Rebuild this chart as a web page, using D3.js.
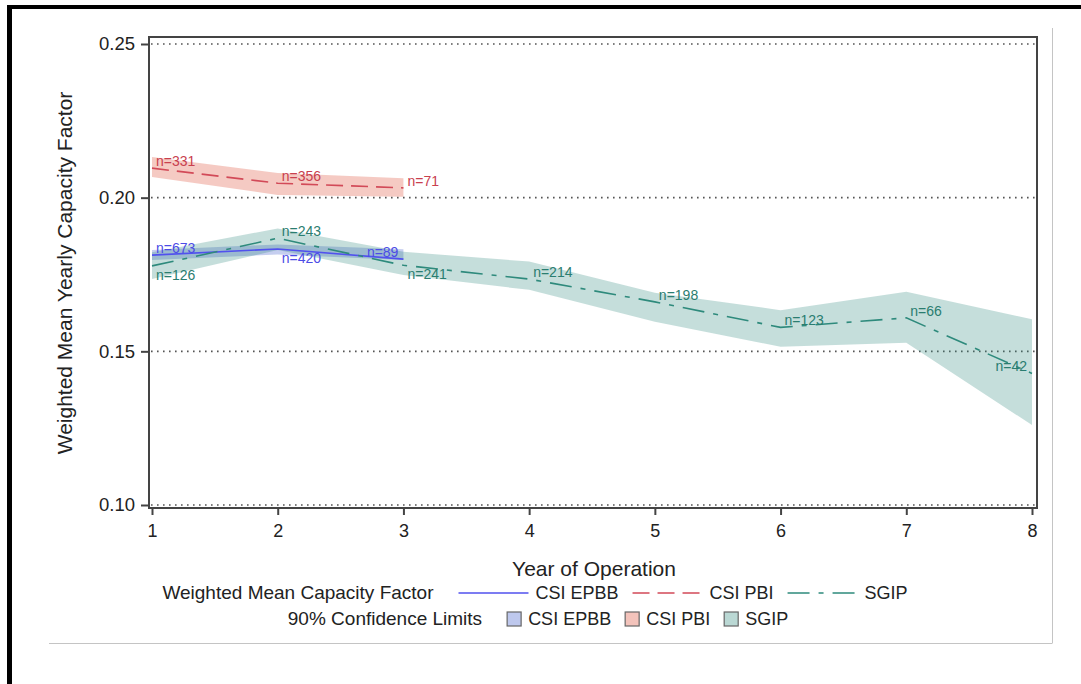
<!DOCTYPE html>
<html>
<head>
<meta charset="utf-8">
<script src="https://cdn.jsdelivr.net/npm/d3@7"></script>
<style>
  body { margin: 0; background: #fff; }
  text { font-family: "Liberation Sans", Arial, sans-serif; fill: #222; }
</style>
</head>
<body>
<div id="chart"></div>
<script>
// values
const years = [1, 2, 3, 4, 5, 6, 7, 8];
const yTicks = [0.10, 0.15, 0.20, 0.25];

const epbbMean  = [0.1813, 0.1833, 0.1800];
const epbbLower = [0.1797, 0.1815, 0.1797];
const epbbUpper = [0.1830, 0.1848, 0.1832];
const epbbN     = [673, 420, 89];

const pbiMean  = [0.2096, 0.2047, 0.2032];
const pbiLower = [0.2067, 0.2009, 0.2003];
const pbiUpper = [0.2132, 0.2080, 0.2063];
const pbiN     = [331, 356, 71];

const sgipMean  = [0.1778, 0.1868, 0.1780, 0.1735, 0.1661, 0.1578, 0.1609, 0.1428];
const sgipLower = [0.1735, 0.1830, 0.1748, 0.1700, 0.1596, 0.1515, 0.1528, 0.1260];
const sgipUpper = [0.1822, 0.1900, 0.1824, 0.1792, 0.1691, 0.1634, 0.1694, 0.1604];
const sgipN     = [126, 243, 241, 214, 198, 123, 66, 42];

const seriesNames = ['CSI EPBB', 'CSI PBI', 'SGIP'];

// where each n= label sits relative to its point
const epbbPos = ['ar', 'br', 'al'];
const pbiPos  = ['ar', 'ar', 'ar'];
const sgipPos = ['br', 'ar', 'br', 'ar', 'ar', 'ar', 'ar', 'al'];

const W = 1081, H = 684;
const svg = d3.select('#chart').append('svg')
    .attr('width', W)
    .attr('height', H);

// page decoration: black frame top/left, grey shadow box
svg.append('rect').attr('x', 7).attr('y', 5).attr('width', W - 7).attr('height', 4).attr('fill', '#000');
svg.append('rect').attr('x', 7).attr('y', 5).attr('width', 5).attr('height', H - 5).attr('fill', '#000');
svg.append('line').attr('x1', 49).attr('x2', 1052).attr('y1', 643.5).attr('y2', 643.5)
    .attr('stroke', '#c4c4c4').attr('stroke-width', 1);
svg.append('line').attr('x1', 1052.5).attr('x2', 1052.5).attr('y1', 28).attr('y2', 643.5)
    .attr('stroke', '#c4c4c4').attr('stroke-width', 1);

const x = d3.scaleLinear().domain([1, 8]).range([152, 1032]);
const y = d3.scaleLinear().domain([0.10, 0.25]).range([505, 44]);

const frame = {left: 149, right: 1037, top: 37, bottom: 508};

// dotted reference lines
svg.append('g').selectAll('line')
    .data(yTicks)
    .join('line')
    .attr('x1', frame.left + 2)
    .attr('x2', frame.right - 2)
    .attr('y1', d => y(d))
    .attr('y2', d => y(d))
    .attr('stroke', '#555')
    .attr('stroke-width', 1.6)
    .attr('stroke-dasharray', '1.6,4.4');

const colEPBB = '#5151ee', colPBI = '#d24a58', colSGIP = '#2e8a7c';

function rows(mean, lower, upper, n) {
    return mean.map((m, i) => ({year: years[i], m: m, lo: lower[i], hi: upper[i], n: n[i]}));
}
const epbb = rows(epbbMean, epbbLower, epbbUpper, epbbN);
const pbi  = rows(pbiMean, pbiLower, pbiUpper, pbiN);
const sgip = rows(sgipMean, sgipLower, sgipUpper, sgipN);

const area = d3.area().x(d => x(d.year)).y0(d => y(d.lo)).y1(d => y(d.hi));
const line = d3.line().x(d => x(d.year)).y(d => y(d.m));

// confidence bands
svg.append('path').attr('d', area(epbb)).attr('fill', '#6f84d6').attr('fill-opacity', 0.4);
svg.append('path').attr('d', area(pbi)).attr('fill', '#e6806f').attr('fill-opacity', 0.42);
svg.append('path').attr('d', area(sgip)).attr('fill', '#2e8a7c').attr('fill-opacity', 0.28);

// mean lines
svg.append('path').attr('d', line(epbb)).attr('fill', 'none')
    .attr('stroke', colEPBB).attr('stroke-width', 1.6);
svg.append('path').attr('d', line(pbi)).attr('fill', 'none')
    .attr('stroke', colPBI).attr('stroke-width', 1.6).attr('stroke-dasharray', '17,8');
svg.append('path').attr('d', line(sgip)).attr('fill', 'none')
    .attr('stroke', colSGIP).attr('stroke-width', 1.6).attr('stroke-dasharray', '22,9,5,9');

// n= labels
function nLabels(data, pos, color) {
    svg.append('g').selectAll('text')
        .data(data)
        .join('text')
        .attr('x', (d, i) => pos[i] === 'al' ? x(d.year) - 5 : x(d.year) + 4)
        .attr('y', (d, i) => pos[i] === 'br' ? y(d.m) + 14 : y(d.m) - 2)
        .attr('text-anchor', (d, i) => pos[i] === 'al' ? 'end' : 'start')
        .style('font-size', '14px')
        .style('fill', color)
        .text(d => 'n=' + d.n);
}
nLabels(pbi, pbiPos, '#c9404e');
nLabels(epbb, epbbPos, '#4c4ce6');
nLabels(sgip, sgipPos, '#2a7d70');

// frame
svg.append('rect')
    .attr('x', frame.left).attr('y', frame.top)
    .attr('width', frame.right - frame.left)
    .attr('height', frame.bottom - frame.top)
    .attr('fill', 'none')
    .attr('stroke', '#444')
    .attr('stroke-width', 2);

// y axis
const yAxis = svg.append('g')
    .attr('transform', `translate(${frame.left},0)`)
    .call(d3.axisLeft(y).tickValues(yTicks).tickFormat(d3.format('.2f')).tickSize(8).tickPadding(6));
yAxis.select('.domain').remove();
yAxis.selectAll('line').attr('stroke', '#444').attr('stroke-width', 2);
yAxis.selectAll('text').style('font-size', '18.5px').style('font-family', '"Liberation Sans", Arial, sans-serif').attr('fill', '#222');

// x axis
const xAxis = svg.append('g')
    .attr('transform', `translate(0,${frame.bottom})`)
    .call(d3.axisBottom(x).tickValues(years).tickFormat(d3.format('d')).tickSize(7).tickPadding(9));
xAxis.select('.domain').remove();
xAxis.selectAll('line').attr('stroke', '#444').attr('stroke-width', 2);
xAxis.selectAll('text').style('font-size', '18px').style('font-family', '"Liberation Sans", Arial, sans-serif').attr('fill', '#222');

// axis titles
svg.append('text')
    .attr('transform', 'translate(72,273) rotate(-90)')
    .attr('text-anchor', 'middle')
    .style('font-size', '21px')
    .text('Weighted Mean Yearly Capacity Factor');
svg.append('text')
    .attr('x', 594)
    .attr('y', 576)
    .attr('text-anchor', 'middle')
    .style('font-size', '21px')
    .text('Year of Operation');

// legend
const colors = [colEPBB, colPBI, colSGIP];
const dashes = [null, '17,8', '22,9,5,9'];
const bandFill = ['#6f84d6', '#e6806f', '#2e8a7c'];
const bandOpacity = [0.4, 0.42, 0.28];

function legendRow(title, yMid, drawSymbol, symW, center) {
    const g = svg.append('g');
    let cx = 0;
    const t = g.append('text').attr('x', cx).attr('y', yMid + 6)
        .style('font-size', '19px').text(title);
    cx += t.node().getComputedTextLength() + 25;
    seriesNames.forEach((name, i) => {
        drawSymbol(g, i, cx, yMid);
        cx += symW + 7;
        const tt = g.append('text').attr('x', cx).attr('y', yMid + 6)
            .style('font-size', '18px').text(name);
        cx += tt.node().getComputedTextLength() + 14;
    });
    cx -= 14;
    g.attr('transform', `translate(${center - cx / 2},0)`);
}

legendRow('Weighted Mean Capacity Factor', 593, (g, i, cx, ym) => {
    g.append('line').attr('x1', cx).attr('x2', cx + 70).attr('y1', ym).attr('y2', ym)
        .attr('stroke', colors[i]).attr('stroke-width', 1.6)
        .attr('stroke-dasharray', dashes[i]);
}, 70, 535);

legendRow('90% Confidence Limits', 619, (g, i, cx, ym) => {
    g.append('rect').attr('x', cx).attr('y', ym - 7).attr('width', 14).attr('height', 14)
        .attr('fill', bandFill[i]).attr('fill-opacity', bandOpacity[i] + 0.05)
        .attr('stroke', '#666').attr('stroke-width', 1.2);
}, 14, 538);
</script>
</body>
</html>
